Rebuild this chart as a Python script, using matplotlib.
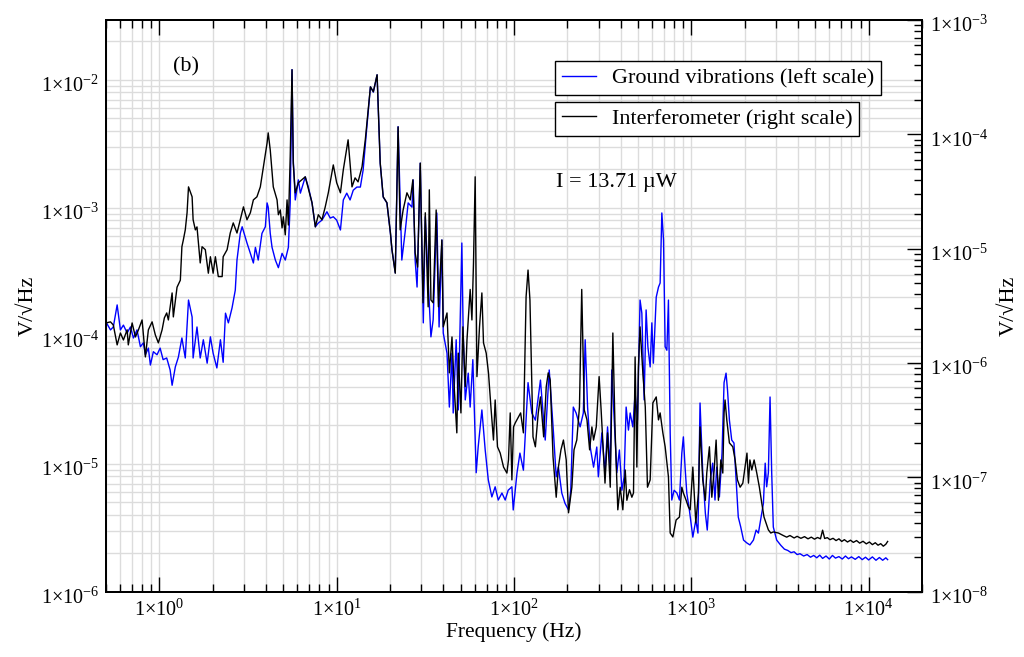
import matplotlib
matplotlib.use('Agg')
import numpy as np
import matplotlib.pyplot as plt
from matplotlib.ticker import LogLocator, FuncFormatter, NullFormatter
from matplotlib.transforms import ScaledTranslation

plt.rcParams['font.family'] = 'serif'
plt.rcParams['font.serif'] = ['Liberation Serif', 'DejaVu Serif']
plt.rcParams['mathtext.fontset'] = 'custom'
plt.rcParams['mathtext.rm'] = 'Liberation Serif'
plt.rcParams['mathtext.it'] = 'Liberation Serif:italic'

# Ground vibrations (left scale), V/sqrt(Hz)
ground_freq = [0.5, 0.53, 0.55, 0.578, 0.603, 0.627, 0.658, 0.687, 0.714, 0.748,
               0.782, 0.812, 0.834, 0.867, 0.89, 0.925, 0.97, 1.01, 1.05, 1.10,
               1.15, 1.18, 1.23, 1.28, 1.34, 1.40, 1.46, 1.53, 1.55, 1.63,
               1.70, 1.77, 1.86, 1.94, 2.01, 2.11, 2.21, 2.29, 2.36, 2.45,
               2.57, 2.68, 2.74, 2.86, 2.93, 3.12, 3.26, 3.39, 3.48, 3.61,
               3.79, 3.96, 4.05, 4.11, 4.22, 4.32, 4.51, 4.69, 4.92, 5.13,
               5.34, 5.47, 5.60, 5.69, 5.84, 6.08, 6.24, 6.65, 6.92, 7.26,
               7.58, 7.88, 8.26, 8.81, 9.20, 9.57, 10.0, 10.5, 10.9, 11.4,
               11.9, 12.4, 13.0, 13.6, 14.1, 14.8, 15.5, 16.1, 16.9, 17.6,
               18.3, 19.2, 20.1, 20.5, 21.4, 22.2, 23.3, 24.4, 25.3, 26.6,
               27.0, 27.7, 28.4, 28.8, 29.6, 30.8, 31.6, 32.8, 34.0, 35.0,
               36.7, 37.8, 39.2, 39.9, 41.9, 43.2, 44.7, 45.4, 47.2, 48.5,
               50.8, 51.7, 53.1, 55.2, 56.6, 58.6, 61.2, 62.8, 65.9, 68.8,
               71.6, 75.0, 78.3, 81.5, 85.5, 89.2, 92.7, 97.3, 99.0, 104,
               108, 113, 120, 126, 132, 141, 150, 158, 167, 173,
               178, 186, 194, 203, 209, 216, 224, 236, 246, 252,
               260, 269, 281, 293, 299, 313, 326, 337, 349, 356,
               367, 380, 393, 406, 418, 429, 442, 452, 468, 482,
               497, 514, 526, 542, 556, 569, 586, 599, 611, 634,
               653, 667, 682, 697, 712, 728, 743, 760, 776, 800,
               829, 857, 884, 902, 922, 943, 975, 1020, 1060, 1090,
               1120, 1160, 1200, 1230, 1280, 1320, 1360, 1390, 1440, 1490,
               1530, 1570, 1600, 1640, 1690, 1740, 1790, 1840, 1900, 1970,
               2060, 2140, 2240, 2320, 2390, 2460, 2550, 2610, 2660, 2720,
               2780, 2840, 2900, 3030, 3200, 3350, 3500, 3650, 3800, 3950,
               4100, 4300, 4500, 4700, 4900, 5100, 5300, 5500, 5750, 6000,
               6250, 6500, 6800, 7100, 7400, 7700, 8000, 8400, 8800, 9200,
               9600, 10000, 10500, 11000, 11500, 12000, 12500, 12800]
ground_asd = [1.28e-4, 1.11e-4, 1.17e-4, 1.74e-4, 1.11e-4, 1.21e-4, 1.05e-4, 1.17e-4, 9.6e-5, 1.11e-4,
              8.2e-5, 8.8e-5, 7.1e-5, 8.0e-5, 5.9e-5, 7.5e-5, 7.1e-5, 8.0e-5, 6.5e-5, 6.7e-5,
              5.4e-5, 4.1e-5, 5.7e-5, 6.8e-5, 9.6e-5, 6.7e-5, 1.9e-4, 1.40e-4, 6.7e-5, 1.17e-4,
              6.7e-5, 9.3e-5, 6.1e-5, 9.8e-5, 7.3e-5, 5.6e-5, 9.3e-5, 6.2e-5, 1.50e-4, 1.26e-4,
              1.65e-4, 2.27e-4, 3.9e-4, 6.3e-4, 7.1e-4, 5.3e-4, 4.4e-4, 3.7e-4, 4.9e-4, 3.9e-4,
              6.3e-4, 7.1e-4, 1.09e-3, 1.01e-3, 6.3e-4, 4.9e-4, 3.9e-4, 3.4e-4, 4.4e-4, 3.9e-4,
              4.9e-4, 1.09e-3, 1.2e-2, 2.36e-3, 1.15e-3, 1.65e-3, 1.30e-3, 1.74e-3, 1.45e-3, 1.09e-3,
              7.1e-4, 7.6e-4, 8.0e-4, 9.3e-4, 8.3e-4, 8.5e-4, 8.0e-4, 6.7e-4, 1.15e-3, 1.30e-3,
              1.15e-3, 1.37e-3, 1.45e-3, 1.45e-3, 1.97e-3, 4.3e-3, 8.8e-3, 8.0e-3, 1.09e-2, 2.23e-3,
              1.21e-3, 1.09e-3, 6.3e-4, 4.7e-4, 3.1e-4, 4.3e-3, 3.9e-4, 6.7e-4, 1.09e-3, 1.01e-3,
              1.65e-3, 3.9e-4, 2.4e-4, 4.9e-4, 2.23e-3, 1.26e-4, 8.5e-4, 2.7e-4, 9.8e-5, 1.33e-4,
              9.1e-4, 1.17e-4, 5.6e-4, 1.05e-4, 7.3e-5, 2.77e-5, 7.3e-5, 2.49e-5, 9.3e-5, 2.63e-5,
              5.3e-4, 1.05e-4, 3.15e-5, 5.1e-5, 2.77e-5, 6.5e-5, 8.5e-6, 1.35e-5, 2.63e-5, 1.28e-5,
              7.5e-6, 5.5e-6, 6.6e-6, 5.2e-6, 5.9e-6, 5.2e-6, 6.2e-6, 6.6e-6, 4.35e-6, 8.5e-6,
              1.21e-5, 8.9e-6, 4.3e-5, 2.49e-5, 2.19e-5, 4.5e-5, 1.53e-5, 5.4e-5, 1.74e-5, 7.9e-6,
              9.4e-6, 5.9e-6, 4.9e-6, 4.35e-6, 6.2e-6, 2.77e-5, 2.49e-5, 1.94e-5, 2.49e-5, 9.3e-5,
              2.77e-5, 1.35e-5, 9.4e-6, 1.35e-5, 7.9e-6, 1.74e-5, 8.5e-6, 1.94e-5, 8.9e-6, 5.4e-5,
              2.32e-5, 8.5e-6, 1.28e-5, 6.2e-6, 7.9e-6, 2.77e-5, 1.83e-5, 2.49e-5, 1.94e-5, 3.57e-5,
              2.19e-5, 1.9e-4, 1.50e-4, 3.15e-5, 1.59e-4, 8.2e-5, 5.7e-5, 1.26e-4, 6.1e-5, 2.0e-4,
              2.4e-4, 2.58e-4, 9.1e-4, 5.6e-4, 8.2e-5, 7.7e-5, 1.9e-4, 1.74e-5, 5.2e-6, 6.2e-6,
              5.9e-6, 5.2e-6, 1.21e-5, 1.62e-5, 9.4e-6, 5.9e-6, 4.35e-6, 2.67e-6, 3.63e-6, 2.87e-6,
              2.98e-5, 8.5e-6, 4.1e-6, 3.03e-6, 7.5e-6, 1.01e-5, 5.2e-6, 9.4e-6, 5.5e-6, 1.21e-5,
              4.3e-5, 5.1e-5, 3.77e-5, 2.19e-5, 1.53e-5, 1.45e-5, 7.5e-6, 3.83e-6, 3.2e-6, 2.53e-6,
              2.40e-6, 2.32e-6, 2.53e-6, 3.03e-6, 2.87e-6, 3.63e-6, 4.9e-6, 1.01e-5, 6.6e-6, 8.5e-6,
              3.32e-5, 8.5e-6, 3.2e-6, 2.53e-6, 2.3e-6, 2.15e-6, 2.1e-6, 2.02e-6, 2.05e-6, 1.95e-6,
              1.98e-6, 1.9e-6, 1.95e-6, 1.86e-6, 1.92e-6, 1.84e-6, 1.93e-6, 1.82e-6, 1.9e-6, 1.8e-6,
              1.92e-6, 1.83e-6, 1.88e-6, 1.8e-6, 1.9e-6, 1.81e-6, 1.87e-6, 1.79e-6, 1.88e-6, 1.78e-6,
              1.86e-6, 1.77e-6, 1.87e-6, 1.76e-6, 1.85e-6, 1.76e-6, 1.84e-6, 1.78e-6]

# Interferometer (right scale), V/sqrt(Hz)
interf_freq = [0.5, 0.53, 0.55, 0.578, 0.603, 0.627, 0.658, 0.668, 0.702, 0.733,
               0.762, 0.799, 0.834, 0.867, 0.91, 0.949, 0.987, 1.036, 1.067, 1.10,
               1.124, 1.18, 1.199, 1.258, 1.313, 1.34, 1.365, 1.40, 1.433, 1.46,
               1.53, 1.55, 1.596, 1.63, 1.70, 1.741, 1.816, 1.889, 1.94, 2.01,
               2.07, 2.15, 2.26, 2.29, 2.41, 2.51, 2.61, 2.74, 2.86, 2.98,
               3.12, 3.26, 3.39, 3.55, 3.71, 3.86, 4.05, 4.11, 4.22, 4.39,
               4.61, 4.69, 4.81, 4.92, 5.00, 5.13, 5.25, 5.34, 5.47, 5.60,
               5.69, 5.84, 6.08, 6.65, 7.26, 7.58, 7.88, 8.26, 8.62, 8.97,
               9.57, 10.0, 10.5, 10.9, 11.6, 12.2, 12.7, 13.2, 13.9, 14.5,
               15.5, 16.1, 16.9, 17.6, 18.3, 19.2, 20.1, 20.5, 21.4, 22.2,
               22.8, 23.7, 24.9, 26.0, 26.9, 27.7, 28.6, 29.6, 30.7, 31.6,
               32.8, 33.3, 34.0, 35.0, 36.4, 37.5, 39.2, 39.9, 41.9, 43.2,
               44.7, 46.0, 47.6, 48.5, 50.2, 51.5, 53.1, 54.3, 56.6, 57.9,
               59.1, 60.4, 61.8, 63.9, 65.9, 67.3, 69.7, 71.8, 74.1, 76.6,
               78.3, 80.7, 83.6, 87.3, 91.2, 93.1, 95.2, 97.3, 99.4, 101.6,
               106, 109, 113, 117, 120, 123, 128, 132, 137, 141,
               147, 152, 156, 160, 166, 173, 178, 184, 190, 197,
               203, 212, 218, 226, 234, 241, 249, 258, 267, 275,
               281, 291, 302, 310, 320, 326, 337, 349, 361, 372,
               385, 397, 411, 424, 433, 448, 462, 472, 482, 493,
               503, 514, 533, 550, 566, 586, 607, 634, 653, 667,
               691, 712, 743, 760, 787, 821, 857, 884, 902, 935,
               963, 985, 1020, 1060, 1097, 1120, 1160, 1200, 1222, 1265,
               1305, 1345, 1380, 1422, 1467, 1505, 1530, 1550, 1585, 1640,
               1714, 1766, 1820, 1885, 1952, 2010, 2060, 2100, 2140, 2193,
               2260, 2340, 2420, 2496, 2570, 2640, 2720, 2806, 2900, 3100,
               3300, 3450, 3600, 3800, 3950, 4150, 4350, 4550, 4750, 4950,
               5150, 5350, 5500, 5650, 5850, 6050, 6300, 6550, 6800, 7050,
               7300, 7600, 7900, 8200, 8550, 8900, 9300, 9700, 10100, 10500,
               10900, 11300, 11700, 12100, 12500, 12800]
interf_asd = [2.24e-6, 2.29e-6, 2.15e-6, 1.44e-6, 1.83e-6, 1.59e-6, 1.95e-6, 1.44e-6, 2.24e-6, 1.69e-6,
              1.95e-6, 2.38e-6, 1.13e-6, 1.95e-6, 2.29e-6, 1.76e-6, 1.50e-6, 1.95e-6, 2.48e-6, 2.74e-6,
              2.38e-6, 4.1e-6, 2.53e-6, 4.6e-6, 5.3e-6, 1.04e-5, 1.19e-5, 1.46e-5, 2.06e-5, 3.47e-5,
              2.84e-5, 1.79e-5, 1.46e-5, 1.55e-5, 7.5e-6, 1.04e-5, 9.8e-6, 6.1e-6, 8.5e-6, 6.1e-6,
              8.5e-6, 5.7e-6, 5.7e-6, 8.5e-6, 9.8e-6, 1.37e-5, 1.68e-5, 1.37e-5, 1.79e-5, 2.32e-5,
              1.79e-5, 2.06e-5, 2.67e-5, 2.84e-5, 3.47e-5, 5.2e-5, 8.4e-5, 1.03e-4, 7.3e-5, 3.47e-5,
              2.67e-5, 1.98e-5, 2.18e-5, 1.52e-5, 1.90e-5, 1.32e-5, 2.67e-5, 1.61e-5, 6.4e-5, 3.67e-4,
              5.6e-5, 3.08e-5, 3.77e-5, 4.25e-5, 2.52e-5, 1.55e-5, 1.98e-5, 1.79e-5, 2.32e-5, 3.08e-5,
              5.4e-5, 3.77e-5, 3.08e-5, 4.9e-5, 8.95e-5, 3.47e-5, 4.16e-5, 3.84e-5, 5.2e-5, 8.95e-5,
              2.60e-4, 2.36e-4, 3.32e-4, 5.6e-5, 2.84e-5, 2.52e-5, 1.37e-5, 9.8e-6, 6.1e-6, 1.16e-4,
              1.46e-5, 2.18e-5, 3.08e-5, 2.67e-5, 4.0e-5, 9.2e-6, 6.9e-6, 5.6e-5, 3.36e-6, 2.06e-5,
              3.10e-6, 3.27e-5, 3.56e-6, 3.36e-6, 2.18e-5, 3.10e-6, 1.19e-5, 2.07e-6, 2.74e-6, 8.2e-7,
              1.69e-6, 6.2e-7, 2.45e-7, 1.22e-6, 3.66e-7, 2.07e-6, 6.2e-7, 1.59e-6, 4.4e-6, 2.38e-6,
              7.5e-6, 4.25e-5, 7.6e-7, 2.07e-6, 4.1e-6, 1.50e-6, 1.22e-6, 8.2e-7, 4.13e-7, 2.12e-7,
              4.75e-7, 1.85e-7, 1.63e-7, 1.23e-7, 1.09e-7, 1.42e-7, 3.66e-7, 9.5e-8, 2.76e-7, 2.99e-7,
              3.38e-7, 3.66e-7, 2.45e-7, 3.79e-6, 6.5e-6, 3.56e-6, 2.26e-7, 1.85e-7, 3.66e-7, 5.05e-7,
              2.26e-7, 6.2e-7, 8.2e-7, 7.1e-7, 1.51e-7, 6.7e-8, 1.23e-7, 1.74e-7, 2.12e-7, 1.42e-7,
              4.9e-8, 8.2e-8, 1.74e-7, 2.12e-7, 4.13e-7, 4.4e-6, 3.89e-7, 3.18e-7, 1.74e-7, 2.76e-7,
              2.12e-7, 2.76e-7, 7.6e-7, 3.89e-7, 1.51e-7, 8.9e-8, 2.45e-7, 8.2e-8, 1.83e-6, 2.45e-7,
              5.2e-8, 8.2e-8, 5.2e-8, 1.16e-7, 6.3e-8, 7.8e-8, 6.7e-8, 7.3e-8, 1.13e-6, 1.23e-7,
              9.2e-7, 2.07e-6, 8.2e-7, 4.13e-7, 8.2e-8, 9.5e-8, 4.48e-7, 5.05e-7, 3.18e-7, 3.66e-7,
              2.45e-7, 1.85e-7, 1.01e-7, 3.26e-8, 3.01e-8, 4.24e-8, 4.5e-8, 8.2e-8, 7.3e-8, 6.3e-8,
              5.5e-8, 5.2e-8, 1.23e-7, 3.99e-8, 7.3e-8, 2.76e-7, 9.5e-8, 6.3e-8, 1.09e-7, 1.85e-7,
              6.7e-8, 1.16e-7, 2.12e-7, 6.3e-8, 1.42e-7, 1.09e-7, 3.66e-7, 4.75e-7, 3.18e-7, 2.0e-7,
              1.85e-7, 1.42e-7, 9.5e-8, 8.2e-8, 8.9e-8, 1.23e-7, 1.63e-7, 8.9e-8, 1.42e-7, 1.16e-7,
              1.42e-7, 1.09e-7, 8.2e-8, 5.97e-8, 4.5e-8, 3.99e-8, 3.47e-8, 3.26e-8, 3.33e-8, 3.26e-8,
              3.1e-8, 3.0e-8, 3.1e-8, 2.95e-8, 3.05e-8, 2.93e-8, 3.03e-8, 2.9e-8, 3.0e-8, 2.88e-8,
              2.98e-8, 2.9e-8, 3.45e-8, 2.92e-8, 2.97e-8, 2.85e-8, 2.93e-8, 2.8e-8, 2.9e-8, 2.75e-8,
              2.85e-8, 2.72e-8, 2.82e-8, 2.7e-8, 2.8e-8, 2.66e-8, 2.76e-8, 2.62e-8, 2.72e-8, 2.58e-8,
              2.68e-8, 2.55e-8, 2.63e-8, 2.5e-8, 2.6e-8, 2.75e-8]

x_lim = (0.5, 2e4)
left_lim = (1e-6, 2.93e-2)
right_lim = (1e-8, 1e-3)


def sci_label(v, pos):
    e = int(round(np.log10(v)))
    return '1\u00d710$^{%d}$' % e


fig = plt.figure(figsize=(10.24, 6.57), dpi=100)
ax = fig.add_axes([0.1035, 0.0994, 0.7969, 0.8702])
ax2 = ax.twinx()

ax.plot(ground_freq, ground_asd, color='#0000ff', lw=1.0)
ax2.plot(interf_freq, interf_asd, color='black', lw=1.0)

ax.set_xscale('log')
ax.set_yscale('log')
ax2.set_yscale('log')
ax.set_xlim(*x_lim)
ax.set_ylim(*left_lim)
ax2.set_ylim(*right_lim)

for a in (ax.xaxis, ax.yaxis, ax2.yaxis):
    a.set_major_locator(LogLocator(base=10, numticks=20))
    a.set_minor_locator(LogLocator(base=10, subs=np.arange(2, 10), numticks=20))
    a.set_major_formatter(FuncFormatter(sci_label))
    a.set_minor_formatter(NullFormatter())

ax.grid(True, which='both', color='#dcdcdc', lw=1.0)
ax.set_axisbelow(True)

ax.tick_params(axis='x', which='both', direction='in', top=True, bottom=True,
               labelsize=14.5, pad=6, width=1.0)
ax.tick_params(axis='x', which='major', length=11)
ax.tick_params(axis='x', which='minor', length=6)
ax.tick_params(axis='y', which='both', length=0, labelsize=14.5, pad=5)
ax2.tick_params(axis='x', which='both', bottom=False, top=False, labelbottom=False)
ax2.tick_params(axis='y', which='both', direction='in', right=True, labelsize=14.5, pad=6, width=1.0)
ax2.tick_params(axis='y', which='major', length=11)
ax2.tick_params(axis='y', which='minor', length=6)

for a in (ax, ax2):
    for s in a.spines.values():
        s.set_linewidth(1.4)

ax.set_xlabel('Frequency (Hz)', fontsize=15.5, labelpad=1)
ax.set_ylabel('V/\u221aHz', fontsize=16, labelpad=2)
ax2.set_ylabel('V/\u221aHz', fontsize=16, labelpad=8)

leg_kw = dict(loc='upper left', bbox_transform=fig.transFigure, fontsize=16, frameon=True,
              fancybox=False, framealpha=1, edgecolor='black', borderaxespad=0,
              borderpad=0.3, handlelength=1.55, handletextpad=0.7)
leg1 = ax.legend([ax.lines[0]], ['Ground vibrations (left scale)'],
                 bbox_to_anchor=(0.542, 0.907), **leg_kw)
leg1.get_frame().set_linewidth(1.0)
leg2 = ax2.legend([ax2.lines[0]], ['Interferometer (right scale)'],
                  bbox_to_anchor=(0.542, 0.845), **leg_kw)
leg2.get_frame().set_linewidth(1.0)

fig.text(186 / 1024, 1 - 67 / 657, '(b)', fontsize=16, ha='center', va='center')
fig.text(556 / 1024, 1 - 183 / 657, 'I = 13.71 \u00b5W', fontsize=16, ha='left', va='center')

# nudge y tick labels down a little, as in the reference
fig.canvas.draw()
shift = ScaledTranslation(0, -4 / 100, fig.dpi_scale_trans)
for a in (ax.yaxis, ax2.yaxis):
    for t in a.get_major_ticks():
        t.label1.set_transform(t.label1.get_transform() + shift)
        t.label2.set_transform(t.label2.get_transform() + shift)

fig.savefig('out.png', dpi=100)
